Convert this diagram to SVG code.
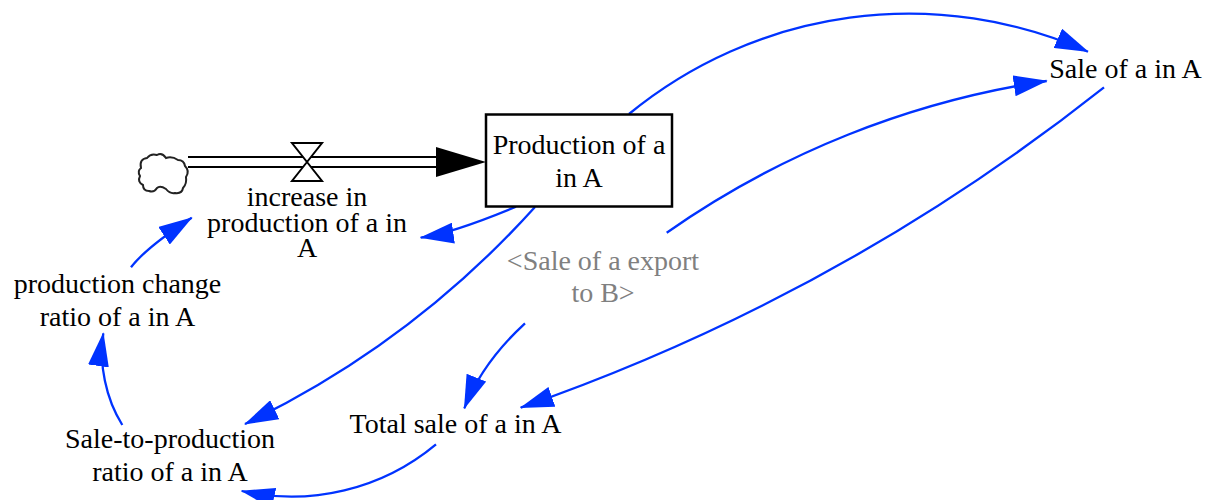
<svg xmlns="http://www.w3.org/2000/svg" width="1211" height="500" viewBox="0 0 1211 500">
<style>
text{font-family:'Liberation Serif',Tinos,'Times New Roman',Times,'DejaVu Serif',serif;font-size:28px;fill:#000;text-anchor:middle}
text.shadow{fill:#808080}
.link{fill:none;stroke:#0033ff;stroke-width:2.3;marker-end:url(#ah)}
.pipe{stroke:#000;stroke-width:2.2;fill:none}
</style>
<defs>
<marker id="ah" markerUnits="userSpaceOnUse" viewBox="0 0 34 21" markerWidth="34" markerHeight="21" refX="33" refY="10.5" orient="auto">
<path d="M0,0 L34,10.5 L0,21 Z" fill="#0033ff"/>
</marker>
</defs>
<rect width="1211" height="500" fill="#fff"/>
<g id="connectors">
<path class="link" d="M629,114 A441,441 0 0 1 1088,51.7"/>
<path class="link" d="M666.7,232.7 A891,891 0 0 1 1046.7,81"/>
<path class="link" d="M1104,87.3 A1993,1993 0 0 1 520.7,407.7"/>
<path class="link" d="M525,323.3 Q482.2,362.8 464.3,408.3"/>
<path class="link" d="M516,206.7 Q452.4,233.2 420.7,237.7"/>
<path class="link" d="M535,207 A937,937 0 0 1 245,424"/>
<path class="link" d="M436,444.3 A225.5,225.5 0 0 1 241.7,491"/>
<path class="link" d="M122.3,425 C105.8,398.8 98.7,364 103.3,333.3"/>
<path class="link" d="M131,267.3 Q146.1,247.5 191.7,217.7"/>
</g>
<g id="flow">
<path id="cloud" d="M141,168 Q139,159 147,158 Q151,153 157,155 Q162,152 166,158 Q172,156 178,160 Q184,160 185,166 Q190,171 186,177 Q187,184 183,188 Q182,194 175,193 Q170,194 166,189 Q160,185 157,188 Q154,193 149,191 Q143,191 143,185 Q137,182 140,176 Q137,171 141,168 Z" fill="#fff" stroke="#222" stroke-width="2"/>
<line class="pipe" x1="188" y1="157" x2="440" y2="157"/>
<line class="pipe" x1="188" y1="167" x2="440" y2="167"/>
<path d="M436,147 L486,162 L436,177 Z" fill="#000"/>
<path id="valve" d="M292,143 L322,143 L307,162 Z M307,162 L292,181 L322,181 Z" fill="#fff" stroke="#000" stroke-width="2"/>
</g>
<g id="production" font-family="Liberation Serif, serif">
<rect x="486" y="114.5" width="186" height="92" fill="#fff" stroke="#000" stroke-width="2.5"/>
<text x="579" y="154">Production of a</text>
<text x="579" y="187.3">in A</text>
</g>
<g id="increase">
<text x="307" y="206">increase in</text>
<text x="307" y="231.7">production of a in</text>
<text x="307" y="257">A</text>
</g>
<g id="sale">
<text x="1125.4" y="78.3">Sale of a in A</text>
</g>
<g id="export">
<text class="shadow" x="603" y="270">&lt;Sale of a export</text>
<text class="shadow" x="603" y="301.7">to B&gt;</text>
</g>
<g id="total">
<text x="455.5" y="433">Total sale of a in A</text>
</g>
<g id="ratio">
<text x="170" y="448.3">Sale-to-production</text>
<text x="170" y="481">ratio of a in A</text>
</g>
<g id="change">
<text x="117.5" y="293.3">production change</text>
<text x="117.5" y="325.7">ratio of a in A</text>
</g>
</svg>
